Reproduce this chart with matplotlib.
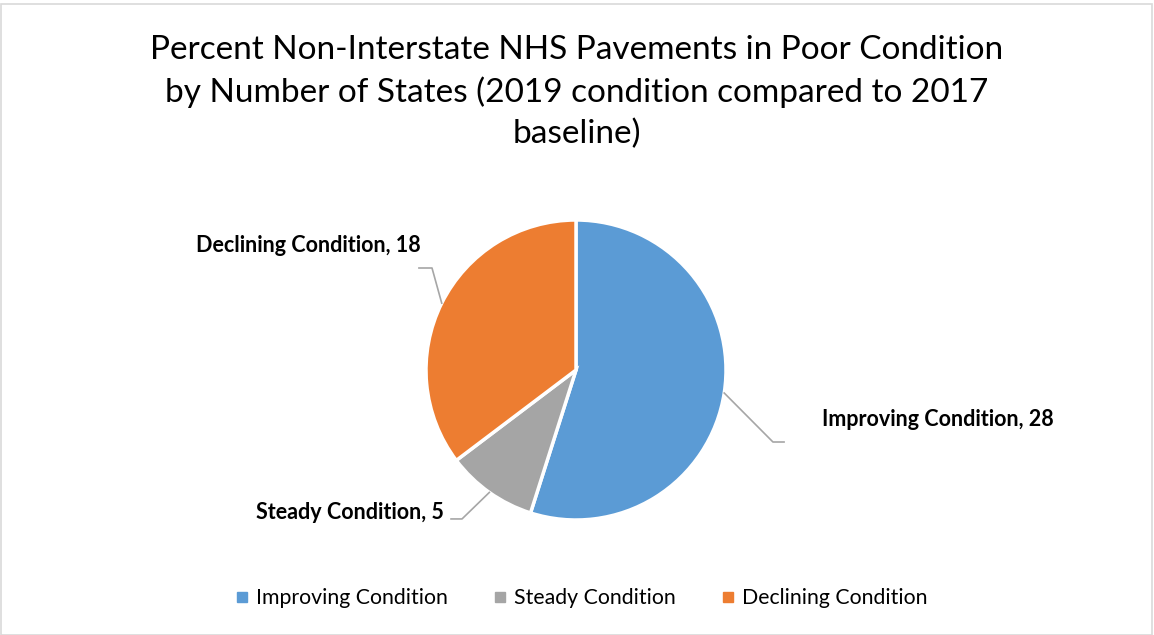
import numpy as np
import matplotlib
matplotlib.use('Agg')
from matplotlib import pyplot as plt
from matplotlib.lines import Line2D
from matplotlib.patches import Rectangle

categories = ['Improving Condition', 'Steady Condition', 'Declining Condition']
values = [28, 5, 18]
colors = ['#5B9BD5', '#A5A5A5', '#ED7D31']
title = ('Percent Non-Interstate NHS Pavements in Poor Condition\n'
         'by Number of States (2019 condition compared to 2017\nbaseline)')

plt.rcParams['font.family'] = ['Lato', 'DejaVu Sans']

W, H = 1154, 635
fig = plt.figure(figsize=(W / 100, H / 100), dpi=100)

# chart border
fig.patches.append(Rectangle((1 / W, 0), 1151 / W, 631 / H, transform=fig.transFigure,
                             fill=False, edgecolor='#D9D9D9', linewidth=1.2))

fig.text(577 / W, 1 - 92 / H, title, ha='center', va='center', fontsize=24,
         linespacing=1.45, color='#000000')

# pie axes: centre (576, 370), radius 150 px
ax = fig.add_axes([426 / W, (H - 520) / H, 300 / W, 300 / H])
wedges, _ = ax.pie(values, colors=colors, startangle=90, counterclock=False, radius=1,
                   wedgeprops=dict(edgecolor='white', linewidth=2.5))
ax.set_xlim(-1, 1)
ax.set_ylim(-1, 1)
ax.set_aspect('equal')
ax.axis('off')

# leader lines: (elbow, end) and label anchor, in pie units
leaders = [
    ((1.313, -0.48), (1.387, -0.48), (1.64, -0.333), 'left'),
    ((-0.76, -0.993), (-0.833, -0.993), (-0.88, -0.947), 'right'),
    ((-0.96, 0.68), (-1.047, 0.68), (-1.033, 0.827), 'right'),
]
for w, cat, val, (elbow, end, lab, ha) in zip(wedges, categories, values, leaders):
    mid = np.deg2rad((w.theta1 + w.theta2) / 2)
    start = (np.cos(mid), np.sin(mid))
    ax.plot([start[0], elbow[0], end[0]], [start[1], elbow[1], end[1]],
            color='#A6A6A6', linewidth=1.2, clip_on=False)
    ax.text(lab[0], lab[1], f'{cat}, {val}', ha=ha, va='center', fontsize=15.5,
            fontweight='bold', color='#000000', clip_on=False)

handles = [Line2D([], [], marker='s', linestyle='none', markersize=7, color=c) for c in colors]
fig.legend(handles, categories, loc='center', bbox_to_anchor=(582 / W, 1 - 598 / H),
           ncol=3, frameon=False, fontsize=15.3, handlelength=0.5, handletextpad=0.4,
           columnspacing=2.2)

fig.savefig('out.png', dpi=100)
